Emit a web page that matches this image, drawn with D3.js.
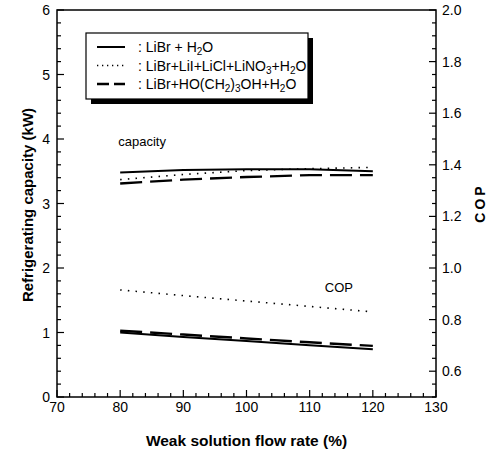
<!DOCTYPE html>
<html>
<head>
<meta charset="utf-8">
<script src="https://cdn.jsdelivr.net/npm/d3@7"></script>
<style>
  body { margin: 0; background: #fff; }
  text { font-family: "Liberation Sans", Arial, sans-serif; fill: #000; }
</style>
</head>
<body>
<div class="container"></div>
<script>
// data
const flowRates = [80, 90, 100, 110, 120];
const capLiBr = [3.48, 3.52, 3.53, 3.53, 3.50];
const capLiMix = [3.37, 3.45, 3.51, 3.54, 3.56];
const capPropanediol = [3.31, 3.37, 3.41, 3.44, 3.44];
const copLiBr = [0.750, 0.733, 0.717, 0.701, 0.685];
const copLiMix = [0.915, 0.893, 0.872, 0.851, 0.830];
const copPropanediol = [0.757, 0.742, 0.727, 0.712, 0.698];
const xTicks = [70, 80, 90, 100, 110, 120, 130];
const yLeftTicks = [0, 1, 2, 3, 4, 5, 6];
const yRightTicks = [0.6, 0.8, 1.0, 1.2, 1.4, 1.6, 1.8, 2.0];

const width = 490;
const height = 453;
const margin = { top: 10, right: 54, bottom: 56, left: 57 };
const w = width - margin.left - margin.right;
const h = height - margin.top - margin.bottom;

const svg = d3.select('.container')
    .append('svg')
    .attr('width', width)
    .attr('height', height);

const g = svg.append('g')
    .attr('transform', `translate(${margin.left}, ${margin.top})`);

const x = d3.scaleLinear().domain([70, 130]).range([0, w]);
const yL = d3.scaleLinear().domain([0, 6]).range([h, 0]);
const yR = d3.scaleLinear().domain([0.5, 2.0]).range([h, 0]);

// frame
g.append('rect')
    .attr('width', w).attr('height', h)
    .attr('fill', 'none').attr('stroke', '#000').attr('stroke-width', 1.5);

// ticks pointing inward
const tickG = g.append('g').attr('stroke', '#000').attr('stroke-width', 1.2);
d3.range(70, 130.01, 2).forEach(v => {
    const major = Math.abs(v % 10) < 0.01;
    tickG.append('line').attr('x1', x(v)).attr('x2', x(v))
        .attr('y1', h).attr('y2', h - (major ? 7 : 4));
});
d3.range(0, 6.01, 0.2).forEach(v => {
    const major = Math.abs(v - Math.round(v)) < 0.01;
    tickG.append('line').attr('x1', 0).attr('x2', major ? 7 : 4)
        .attr('y1', yL(v)).attr('y2', yL(v));
});
d3.range(0.5, 2.001, 0.05).forEach(v => {
    const major = Math.abs(v * 5 - Math.round(v * 5)) < 0.01;
    tickG.append('line').attr('x1', w).attr('x2', w - (major ? 7 : 4))
        .attr('y1', yR(v)).attr('y2', yR(v));
});

// tick labels
g.selectAll('.xl').data(xTicks).join('text')
    .attr('x', d => x(d)).attr('y', h + 15)
    .attr('text-anchor', 'middle').attr('font-size', 14)
    .text(d => d);
g.selectAll('.yl').data(yLeftTicks).join('text')
    .attr('x', -7).attr('y', d => yL(d) + 5)
    .attr('text-anchor', 'end').attr('font-size', 14)
    .text(d => d);
g.selectAll('.yr').data(yRightTicks).join('text')
    .attr('x', w + 6).attr('y', d => yR(d) + 5)
    .attr('font-size', 14)
    .text(d => d3.format('.1f')(d));

// axis titles
svg.append('text')
    .attr('x', margin.left + w / 2).attr('y', 446)
    .attr('text-anchor', 'middle').attr('font-size', 15.5).attr('font-weight', 'bold')
    .text('Weak solution flow rate (%)');
svg.append('text')
    .attr('transform', `translate(33, 205) rotate(-90)`)
    .attr('text-anchor', 'middle').attr('font-size', 15).attr('font-weight', 'bold')
    .text('Refrigerating capacity (kW)');
svg.append('text')
    .attr('transform', `translate(485, 203) rotate(-90)`)
    .attr('text-anchor', 'middle').attr('font-size', 14).attr('font-weight', 'bold')
    .attr('letter-spacing', 3)
    .text('COP');

// series
const styles = [
    { dash: null, width: 2 },
    { dash: '1.5,6.2', width: 1.6 },
    { dash: '22,8', width: 2.4 }
];
const lineL = d3.line().x((d, i) => x(flowRates[i])).y(d => yL(d));
const lineR = d3.line().x((d, i) => x(flowRates[i])).y(d => yR(d));

[capLiBr, capLiMix, capPropanediol].forEach((s, i) => {
    g.append('path').attr('d', lineL(s))
        .attr('fill', 'none').attr('stroke', '#000')
        .attr('stroke-width', styles[i].width)
        .attr('stroke-dasharray', styles[i].dash);
});
[copLiBr, copLiMix, copPropanediol].forEach((s, i) => {
    g.append('path').attr('d', lineR(s))
        .attr('fill', 'none').attr('stroke', '#000')
        .attr('stroke-width', styles[i].width)
        .attr('stroke-dasharray', styles[i].dash);
});

// annotations
g.append('text').attr('x', x(79.7)).attr('y', yL(3.89))
    .attr('font-size', 13).text('capacity');
g.append('text').attr('x', x(112.4)).attr('y', yR(0.908))
    .attr('font-size', 13).text('COP');

// legend
const lg = svg.append('g').attr('transform', 'translate(86, 33)');
lg.append('rect').attr('x', 5).attr('y', 5).attr('width', 222).attr('height', 66).attr('fill', '#000');
lg.append('rect').attr('width', 222).attr('height', 66)
    .attr('fill', '#fff').attr('stroke', '#000').attr('stroke-width', 1.2);

const legendDash = [null, '1.3,3.7', '12,5'];
const legendItems = [
    [['LiBr + H', 0], ['2', 1], ['O', 0]],
    [['LiBr+LiI+LiCl+LiNO', 0], ['3', 1], ['+H', 0], ['2', 1], ['O', 0]],
    [['LiBr+HO(CH', 0], ['2', 1], [')', 0], ['3', 1], ['OH+H', 0], ['2', 1], ['O', 0]]
];
legendItems.forEach((parts, i) => {
    const ly = 14 + i * 18.5;
    lg.append('line').attr('x1', 11).attr('x2', 39).attr('y1', ly).attr('y2', ly)
        .attr('stroke', '#000').attr('stroke-width', styles[i].width)
        .attr('stroke-dasharray', legendDash[i]);
    const t = lg.append('text').attr('x', 52).attr('y', ly + 5).attr('font-size', 14);
    t.append('tspan').text(': ');
    let sub = false;
    parts.forEach(([s, isSub]) => {
        const ts = t.append('tspan').text(s);
        if (isSub && !sub) { ts.attr('dy', 3).attr('font-size', 10); sub = true; }
        else if (isSub) { ts.attr('font-size', 10); }
        else if (sub) { ts.attr('dy', -3); sub = false; }
    });
});
</script>
</body>
</html>
